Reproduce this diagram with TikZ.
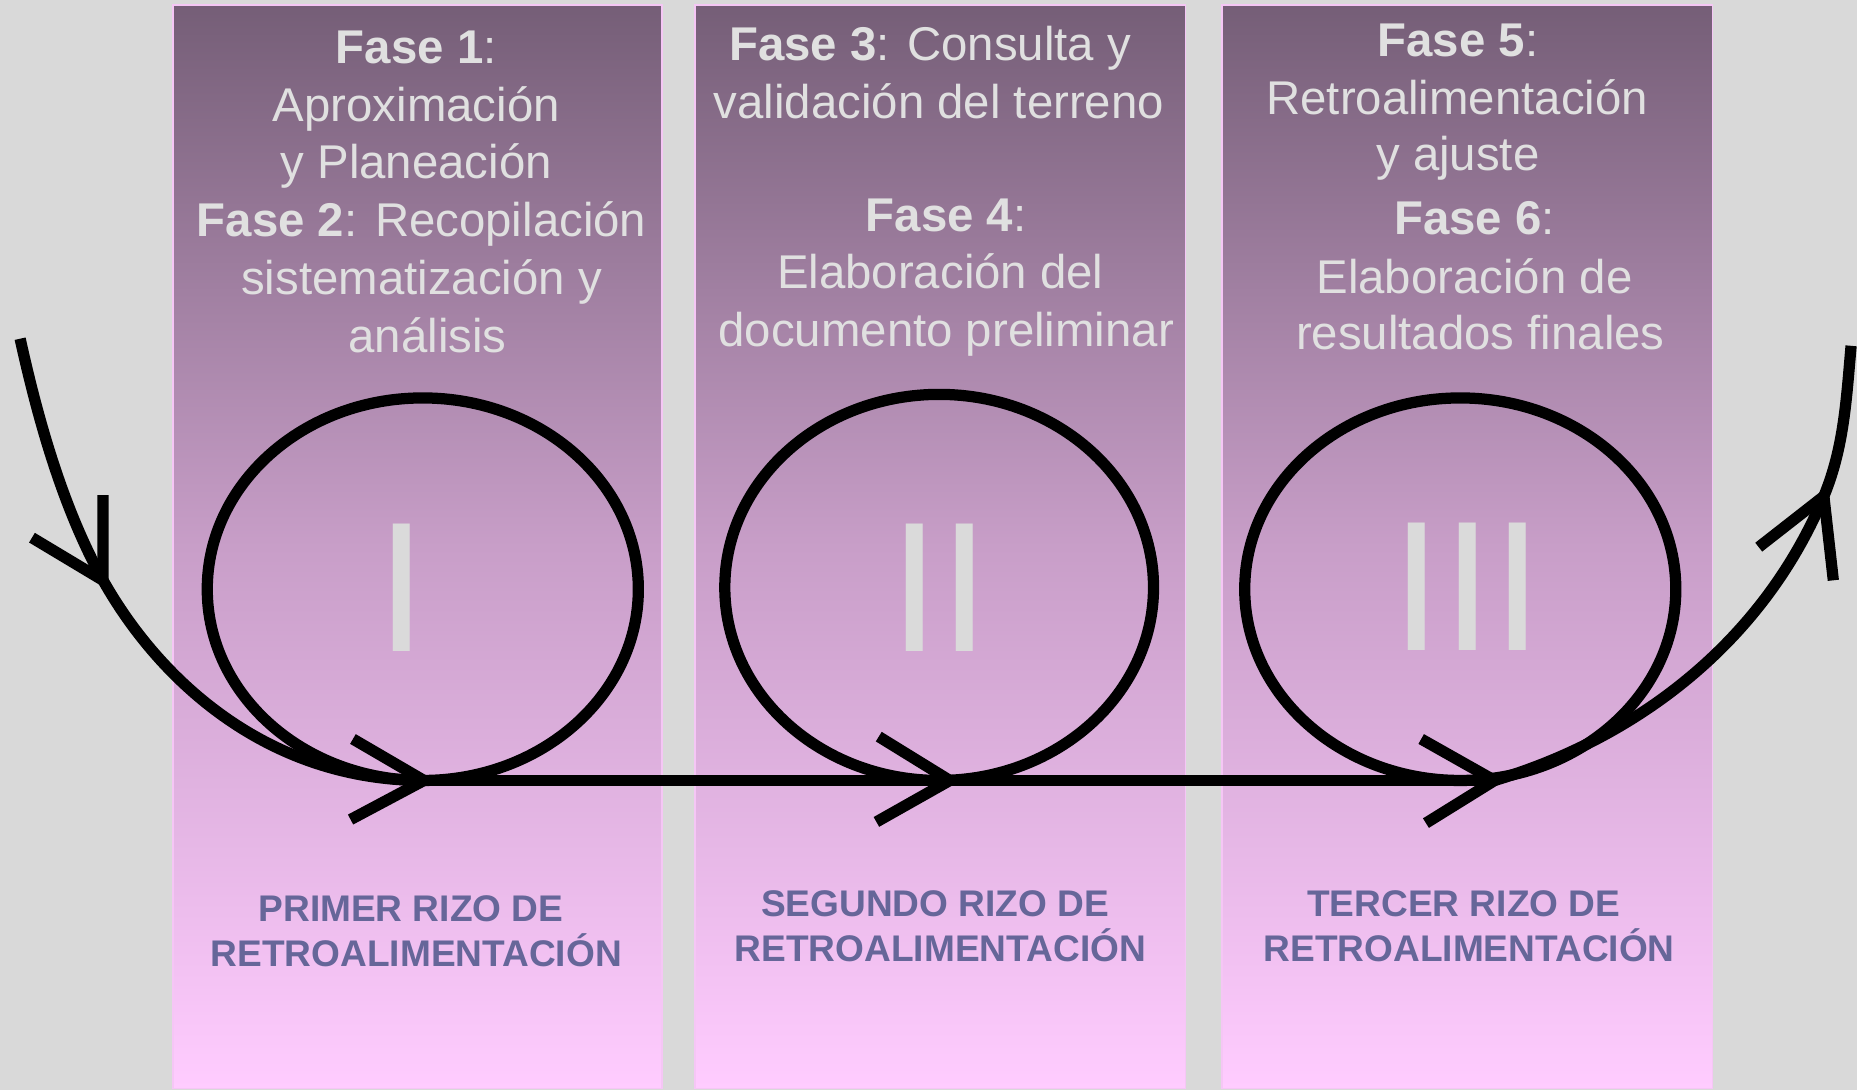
\documentclass[tikz,border=0pt]{standalone}
\usepackage{fontspec}
\setmainfont{Liberation Sans}
\definecolor{bg}{HTML}{D9D9D9}
\definecolor{ptop}{RGB}{117,94,119}
\definecolor{pmid}{RGB}{200,158,200}
\definecolor{pbot}{RGB}{255,204,255}
\definecolor{pedge}{RGB}{245,198,245}
\definecolor{phtext}{HTML}{E0E0E0}
\definecolor{lbl}{RGB}{102,102,153}
\definecolor{numc}{HTML}{DADADA}
\begin{document}
\begin{tikzpicture}[x=1pt,y=1pt,
  panel/.style={top color=ptop, bottom color=pbot, middle color=pmid, draw=pedge, line width=1.5},
  ph/.style={anchor=base, inner sep=0, text=phtext, font=\fontsize{40}{49}\selectfont},
  lb/.style={anchor=base, inner sep=0, text=lbl, font=\fontsize{31.3}{38}\selectfont\bfseries},
  roman/.style={anchor=base, inner sep=0, text=numc, font=\fontsize{149}{149}\selectfont},
  loop/.style={draw=black, line width=9.5},
  flow/.style={draw=black, line width=9.5},
  barb/.style={draw=black, line width=9.5, line join=miter},
]
\useasboundingbox (0,0) rectangle (1568,-920);
\fill[bg] (0,0) rectangle (1568,-920);
% panels
\draw[panel] (146,-4) rectangle (559,-919);
\draw[panel] (587,-4) rectangle (1001,-919);
\draw[panel] (1032,-4) rectangle (1446,-919);
% panel 1 text
\node[ph] (t11) at (351.5,-53.5) {\textbf{Fase 1}:};
\node[ph] (t12) at (351.5,-102.5) {Aproximación};
\node[ph] (t13) at (351.5,-151) {y Planeación};
\node[ph] (t14) at (356,-200) {\textbf{Fase 2}: Recopilación};
\node[ph] (t15) at (356,-248.5) {sistematización y};
\node[ph] (t16) at (361,-297.5) {análisis};
% panel 2 text
\node[ph] (t21) at (785.4,-51.5) {\textbf{Fase 3}: Consulta y};
\node[ph] (t22) at (792.8,-100) {validación del terreno};
\node[ph] (t23) at (798.8,-195.6) {\textbf{Fase 4}:};
\node[ph] (t24) at (794,-243.5) {Elaboración del};
\node[ph] (t25) at (799,-292.7) {documento preliminar};
% panel 3 text
\node[ph] (t31) at (1231,-48) {\textbf{Fase 5}:};
\node[ph] (t32) at (1230.4,-96.5) {Retroalimentación};
\node[ph] (t33) at (1231,-144) {y ajuste};
\node[ph] (t34) at (1245,-198) {\textbf{Fase 6}:};
\node[ph] (t35) at (1245,-247.7) {Elaboración de};
\node[ph] (t36) at (1250,-295.5) {resultados finales};
% bottom labels
\node[lb] (l11) at (347,-777.7) {PRIMER RIZO DE};
\node[lb] (l12) at (351.5,-815.7) {RETROALIMENTACIÓN};
\node[lb] (l21) at (789.6,-774) {SEGUNDO RIZO DE};
\node[lb] (l22) at (794,-812) {RETROALIMENTACIÓN};
\node[lb] (l31) at (1236,-774) {TERCER RIZO DE};
\node[lb] (l32) at (1240.5,-812) {RETROALIMENTACIÓN};
% loops
\draw[loop] (357,-497.5) ellipse [x radius=182, y radius=161.5];
\draw[loop] (793,-496) ellipse [x radius=181, y radius=163];
\draw[loop] (1233,-497.5) ellipse [x radius=182, y radius=161.5];
% numerals
\node[roman] (n1) at (339.5,-550.3) {\scalebox{1.03}[1.05]{I}};
\node[roman] (n2) at (793.3,-550.3) {\scalebox{1.03}[1.05]{II}};
\node[roman] (n3) at (1239,-549.5) {\scalebox{1.03}[1.05]{III}};
% flow path
\coordinate (s) at (17,-286);
\coordinate (a0) at (87,-490);
\coordinate (a1) at (358,-659);
\coordinate (a2) at (802,-659);
\coordinate (a3) at (1262,-659);
\coordinate (a4) at (1540,-419);
\coordinate (e) at (1563,-292);
\draw[flow] (s) .. controls (32,-354) and (53,-429) .. (a0) .. controls (136,-577) and (228,-659) .. (a1);
\draw[flow] (a1) -- (a3);
\draw[flow] (a3) .. controls (1386,-622) and (1490,-539) .. (a4) .. controls (1557,-378) and (1559,-337) .. (e);
% arrowheads
\coordinate (b0a) at (87,-418);  \coordinate (b0b) at (27,-454);
\coordinate (b1a) at (298,-624); \coordinate (b1b) at (296,-692);
\coordinate (b2a) at (742,-622); \coordinate (b2b) at (740,-694);
\coordinate (b3a) at (1200,-624);\coordinate (b3b) at (1204,-695);
\coordinate (b4a) at (1485,-462);\coordinate (b4b) at (1548,-490);
\draw[barb] (b0a) -- (a0) -- (b0b);
\draw[barb] (b1a) -- (a1) -- (b1b);
\draw[barb] (b2a) -- (a2) -- (b2b);
\draw[barb] (b3a) -- (a3) -- (b3b);
\draw[barb] (b4a) -- (a4) -- (b4b);
\end{tikzpicture}
\end{document}
